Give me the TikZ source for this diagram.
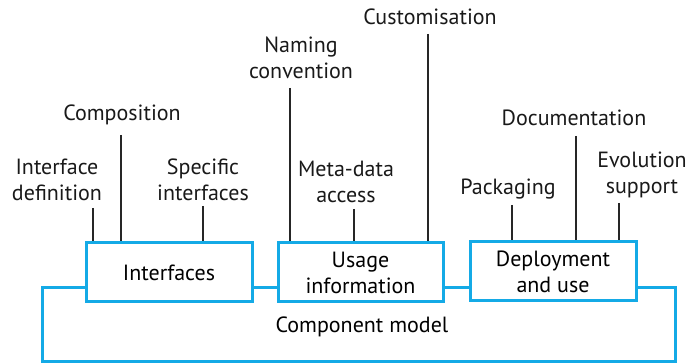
\documentclass[tikz,border=0pt]{standalone}
\usepackage{fontspec}
\setmainfont{PT Sans}
\definecolor{boxblue}{RGB}{20,170,230}
\begin{document}
\begin{tikzpicture}[x=1pt,y=-1pt,
  every node/.style={font=\fontsize{22}{26}\selectfont, align=center, inner sep=0pt},
  bluebox/.style={draw=boxblue, line width=3pt, fill=white, minimum height=59pt},
  label/.style={text=black!90},
  conn/.style={draw=black!85, line width=1.3pt}]
\useasboundingbox (0,0) rectangle (688,363);
% outer component model frame
\node[draw=boxblue, line width=3pt, minimum width=633pt, minimum height=73pt] (cm) at (358.5,324.5) {};
\node (cmtext) at (362,327) {Component model};
% boxes
\node[bluebox, minimum width=166pt] (intf) at (169,272.5) {Interfaces};
\node[bluebox, minimum width=165pt] (usage) at (360.5,272.5) {Usage\\information};
\node[bluebox, minimum width=166pt] (deploy) at (553,271.5) {Deployment\\and use};
% labels
\node[label] (idef) at (57,180) {Interface\\definition};
\node[label] (comp) at (122,115) {Composition};
\node[label] (spec) at (203,180) {Specific\\interfaces};
\node[label] (nam) at (301,58) {Naming\\convention};
\node[label] (cust) at (430,17) {Customisation};
\node[label] (meta) at (346,182) {Meta-data\\access};
\node[label] (pack) at (508,189) {Packaging};
\node[label] (doc) at (574,118) {Documentation};
\node[label] (evo) at (642,175) {Evolution\\support};
% connector top coordinates
\coordinate (cidef) at (93,208);
\coordinate (ccomp) at (121,135);
\coordinate (cspec) at (203,206);
\coordinate (cnam) at (290,88);
\coordinate (ccust) at (428,34);
\coordinate (cmeta) at (354,209);
\coordinate (cpack) at (512,205);
\coordinate (cdoc) at (576,136);
\coordinate (cevo) at (619,203);
% connectors
\draw[conn] (cidef) -- (cidef |- intf.north);
\draw[conn] (ccomp) -- (ccomp |- intf.north);
\draw[conn] (cspec) -- (cspec |- intf.north);
\draw[conn] (cnam) -- (cnam |- usage.north);
\draw[conn] (ccust) -- (ccust |- usage.north);
\draw[conn] (cmeta) -- (cmeta |- usage.north);
\draw[conn] (cpack) -- (cpack |- deploy.north);
\draw[conn] (cdoc) -- (cdoc |- deploy.north);
\draw[conn] (cevo) -- (cevo |- deploy.north);
\end{tikzpicture}
\end{document}
